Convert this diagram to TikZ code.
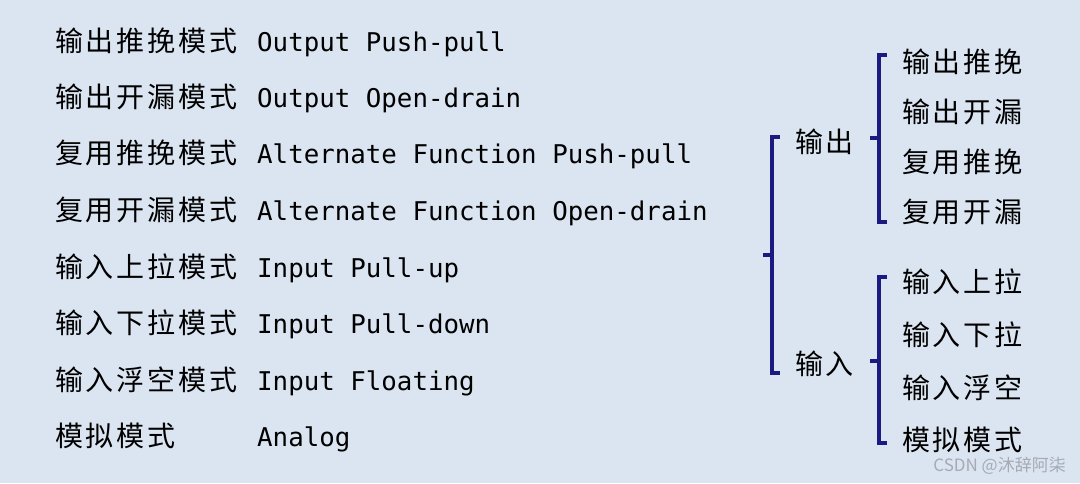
\documentclass[tikz,border=0pt]{standalone}
\usepackage{fontspec}
\usepackage{tikz}
\usepackage{xcolor}
\newfontfamily\cjk{Noto Sans CJK SC}[LetterSpace=10]
\newfontfamily\cjkplain{Noto Sans CJK SC}
\newfontfamily\mono{DejaVu Sans Mono}
\definecolor{bgblue}{RGB}{219,229,241}
\definecolor{brk}{RGB}{26,26,128}
\definecolor{wmgray}{RGB}{165,170,180}

\begin{document}
\begin{tikzpicture}[x=1pt,y=-1pt,
  zh/.style={anchor=base west,inner sep=0pt,font=\cjk\fontsize{28}{28}\selectfont},
  en/.style={anchor=base west,inner sep=0pt,font=\mono\fontsize{25.8}{26}\selectfont},
  brace/.style={draw=brk,line width=3.4pt}]
  \fill[bgblue] (0,0) rectangle (1080,483);
  % left column: chinese name + english name, one row each
  \foreach \i/\y/\zhtxt/\entxt in {
    1/51/输出推挽模式/Output Push-pull,
    2/107/输出开漏模式/Output Open-drain,
    3/163/复用推挽模式/Alternate Function Push-pull,
    4/220/复用开漏模式/Alternate Function Open-drain,
    5/277/输入上拉模式/Input Pull-up,
    6/333/输入下拉模式/Input Pull-down,
    7/390/输入浮空模式/Input Floating,
    8/446/模拟模式/Analog} {
    \node[zh] (zh\i) at (55,\y) {\zhtxt};
    \node[en] (en\i) at (257,\y) {\entxt};
  }
  % right side: tree of modes
  \node[zh] (out) at (795,152) {输出};
  \node[zh] (in) at (795,374) {输入};
  \foreach \i/\y/\txt in {1/72/输出推挽, 2/122/输出开漏, 3/172/复用推挽, 4/222/复用开漏,
    5/292/输入上拉, 6/345/输入下拉, 7/398/输入浮空, 8/450/模拟模式} {
    \node[zh] (item\i) at (902,\y) {\txt};
  }
  % bracket corners and ticks
  \coordinate (rootT) at (780,137);
  \coordinate (rootB) at (780,373);
  \coordinate (rootM) at (763,255);
  \coordinate (outT) at (887,55);
  \coordinate (outB) at (887,222);
  \coordinate (outM) at (870,138);
  \coordinate (inT) at (887,277);
  \coordinate (inB) at (887,443);
  \coordinate (inM) at (870,361);
  \foreach \b in {root,out,in} {
    \draw[brace] (\b T) -- ++(-8,0) |- (\b B);
    \draw[brace] (\b M) -- ++(9,0);
  }
  \node[anchor=east,inner sep=0pt,text=wmgray,font=\cjkplain\fontsize{17}{17}\selectfont]
    (mark) at (1066,466) {CSDN @沐辞阿柒};
\end{tikzpicture}
\end{document}
